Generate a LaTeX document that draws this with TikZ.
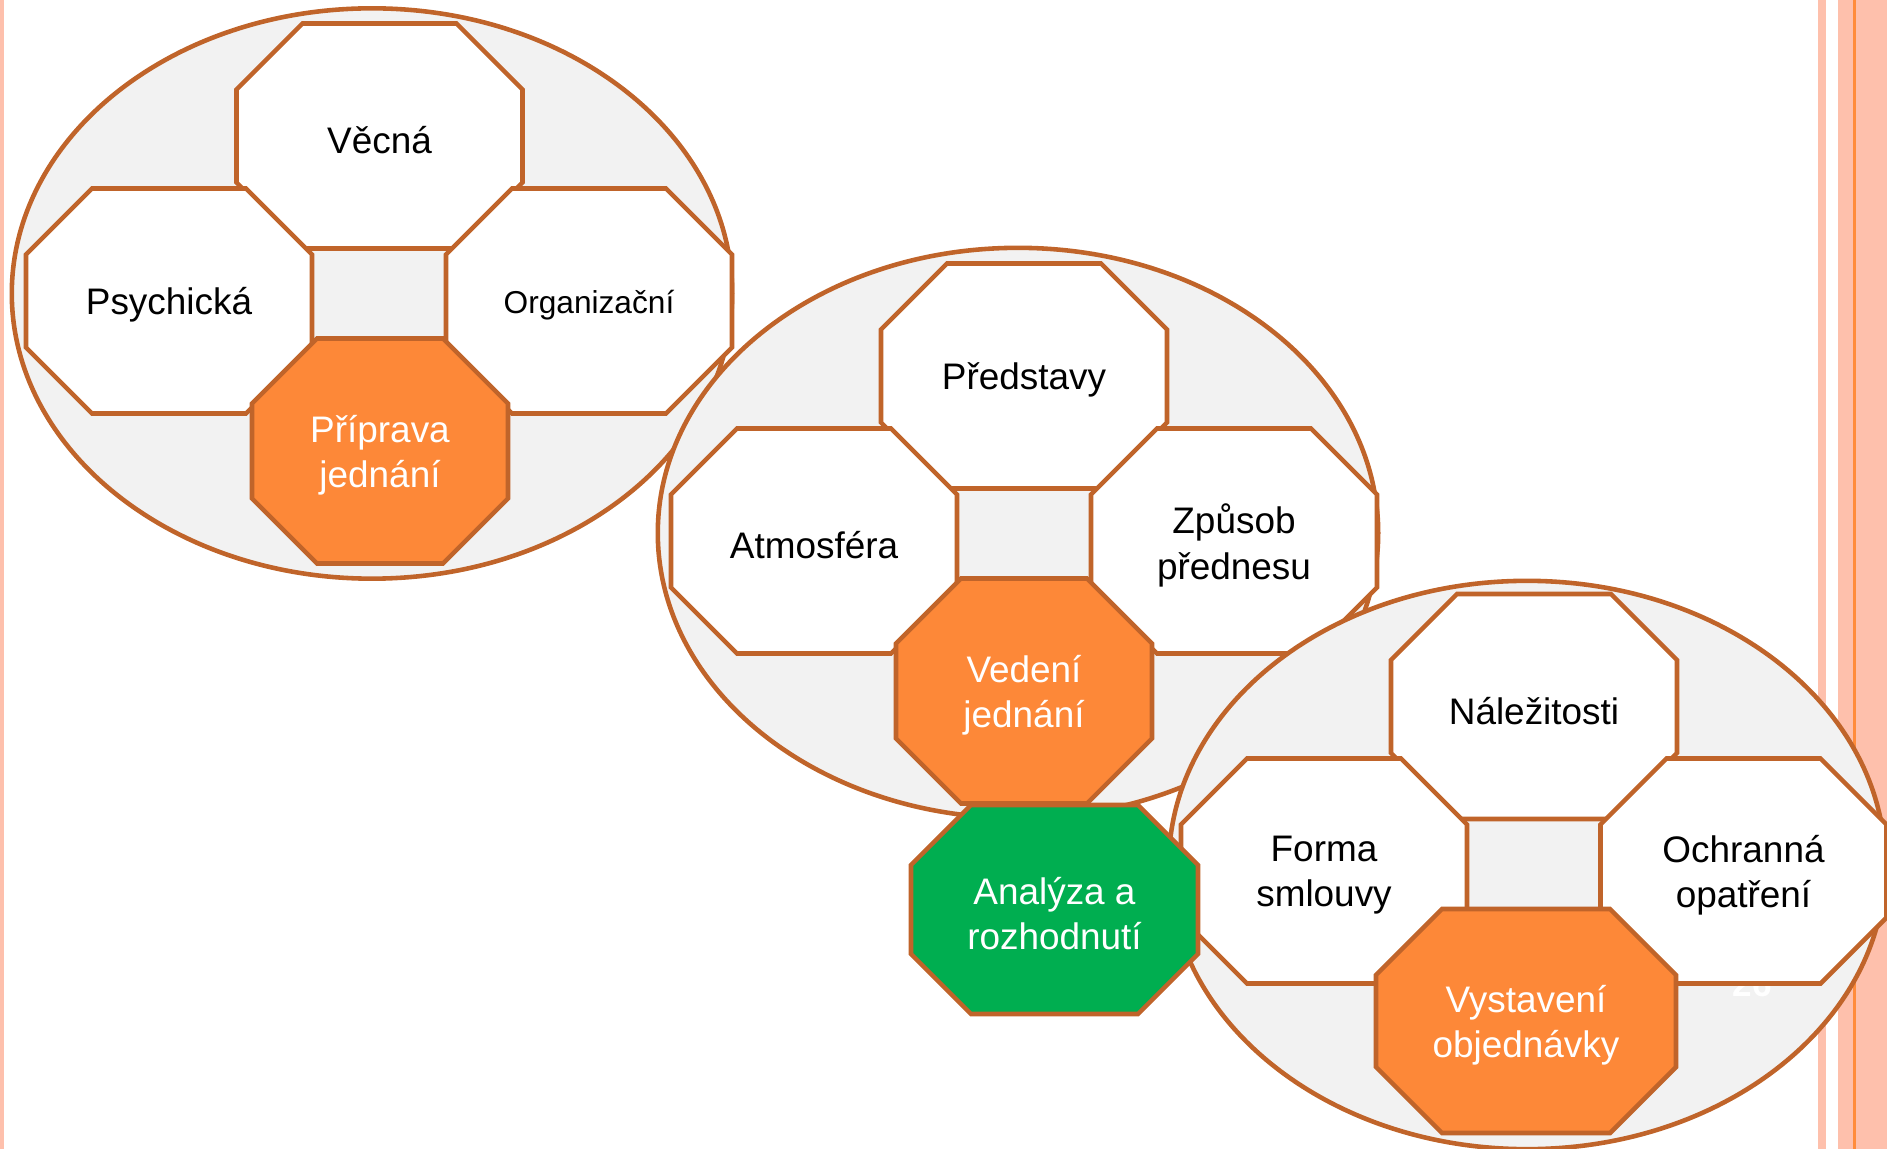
\documentclass[tikz,border=0pt]{standalone}
\usepackage{fontspec}
\setmainfont{Liberation Sans}
\usepackage{tikz}
\definecolor{rimline}{RGB}{192,100,42}
\definecolor{plategray}{RGB}{242,242,242}
\definecolor{stageorange}{RGB}{253,136,56}
\definecolor{decisiongreen}{RGB}{0,174,80}
\definecolor{barpink}{RGB}{254,192,172}
\definecolor{barline}{RGB}{255,140,60}
\newcommand{\octbox}[7]{%
  \draw [#1, shift = {(#3)}] (-#4 + #6, -#5) -- (#4 - #6, -#5) -- (#4, -#5 + #6)
    -- (#4, #5 - #6) -- (#4 - #6, #5) -- (-#4 + #6, #5) -- (-#4, #5 - #6)
    -- (-#4, -#5 + #6) -- cycle;
  \node [#1 text] (#2) at (#3) {#7};
}
\tikzset{rim/.style = {draw = rimline, line width = 1.3pt}}
\tikzset{plate/.style = {rim, fill = plategray}}
\tikzset{white oct/.style = {rim, fill = white}}
\tikzset{orange oct/.style = {rim, fill = stageorange}}
\tikzset{green oct/.style = {rim, fill = decisiongreen}}
\tikzset{oct text/.style = {align = center, inner sep = 0, yshift = -1.2pt, font = \fontsize{10.5}{13}\selectfont}}
\tikzset{white oct text/.style = {oct text, text = black}}
\tikzset{orange oct text/.style = {oct text, text = white}}
\tikzset{green oct text/.style = {oct text, text = white}}
\tikzset{bar/.style = {fill = barpink}}

\begin{document}
\begin{tikzpicture}[x = 0.01cm, y = -0.01cm]
      \useasboundingbox (0, 0) rectangle (1887, 1149);

      \fill [bar] (0, 0) rectangle (3.5, 1149);
      \fill [bar] (1818, 0) rectangle (1826, 1149);
      \fill [bar] (1838, 0) rectangle (1887, 1149);
      \fill [barline] (1853, 0) rectangle (1855.5, 1149);

      \draw [plate] (372, 293.5) ellipse [x radius = 3.6cm, y radius = 2.85cm];
      \octbox{white oct}{vecna}{379.5, 136}{143}{112.5}{66}{Věcná}
      \octbox{white oct}{psychicka}{169, 301}{143}{112.5}{66}{Psychická}
      \octbox{white oct}{organizacni}{589, 301}{143}{112.5}{66}{\fontsize{9}{10.8}\selectfont Organizační}
      \octbox{orange oct}{priprava}{380, 451}{128}{112.5}{65}{Příprava\\jednání}

      \draw [plate] (1018, 533) ellipse [x radius = 3.6cm, y radius = 2.85cm];
      \octbox{white oct}{predstavy}{1024, 376}{143}{112.5}{66}{Představy}
      \octbox{white oct}{atmosfera}{814, 541}{143}{112.5}{66}{Atmosféra}
      \octbox{white oct}{zpusob}{1234, 541}{143}{112.5}{66}{Způsob\\přednesu}
      \octbox{orange oct}{vedeni}{1024, 691}{128}{112.5}{65}{Vedení\\jednání}

      \draw [plate] (1527, 865) ellipse [x radius = 3.58cm, y radius = 2.84cm];
      \node [font = \fontsize{10}{12}\selectfont\bfseries, text = white, anchor = base] (slideno) at (1752, 996) {26};
      \octbox{white oct}{nalezitosti}{1534, 706.5}{143}{112.5}{66}{Náležitosti}
      \octbox{white oct}{forma}{1324, 871}{143}{112.5}{66}{Forma\\smlouvy}
      \octbox{white oct}{ochranna}{1743.5, 871}{143}{112.5}{66}{Ochranná\\opatření}
      \octbox{orange oct}{vystaveni}{1526, 1021}{150}{112}{66}{Vystavení\\objednávky}

      \octbox{green oct}{analyza}{1054.5, 909.5}{143.5}{104.5}{60}{Analýza a\\rozhodnutí}
    \end{tikzpicture}
\end{document}
